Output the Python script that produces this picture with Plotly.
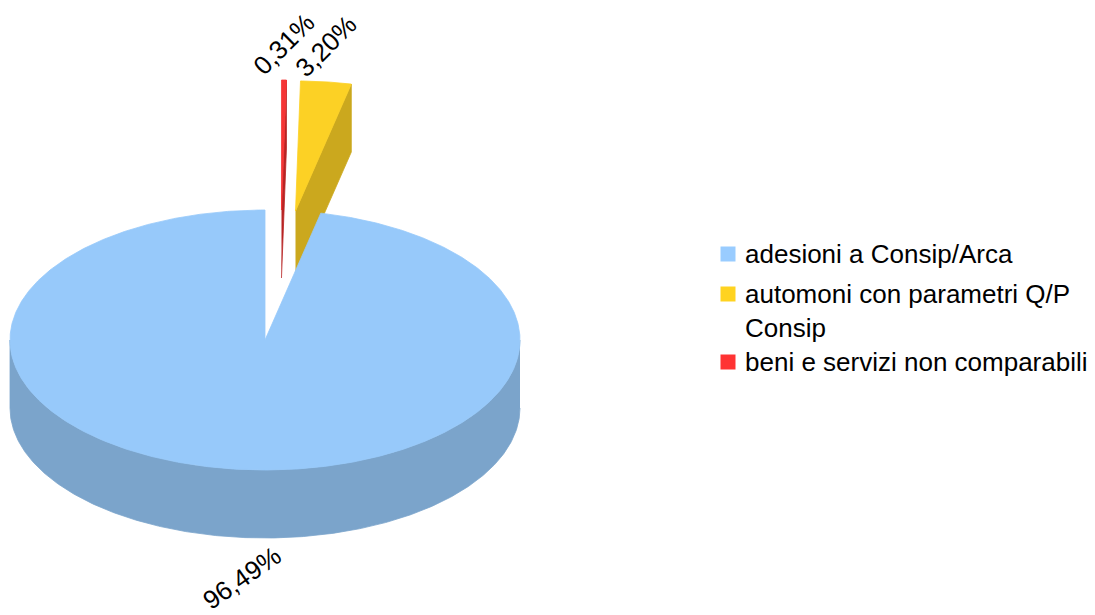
import numpy as np
import plotly.graph_objects as go

# ---------------- data ----------------
categories = ["adesioni a Consip/Arca",
              "automoni con parametri Q/P<br>Consip",
              "beni e servizi non comparabili"]
values = [96.49, 3.20, 0.31]
value_labels = [f"{v:.2f}%".replace(".", ",") for v in values]

# ---------------- style ----------------
base_colors = ["#99CCFF", "#FFD320", "#FF3333"]   # legend swatches
top_colors = ["#97C9FA", "#FCD125", "#F53535"]    # lit top faces
side_colors = ["#7BA4CB", "#CBA81E", "#B82424"]   # shaded side faces
pull = [0.0, 1.0, 1.0]          # explode, fraction of radius
lean = [0.0, 0.0, 14.0]         # perspective lean of exploded slices (px)
label_angle = [-35, -45, -45]
FONT = "Liberation Sans"

W, H = 1095, 615
PAGE_OFF = 8                    # default body margin of the html page
CX, CY, RX, RY, DEPTH = 265, 340, 255, 130, 68
LABEL_GAP_BACK, LABEL_GAP_FRONT, LABEL_SHIFT_FRONT = 36, 41, 5

LEG_X, LEG_Y0, LEG_LINE, LEG_GAP = 728, 254, 28, 12


def pt(t, ox, oy, z=0.0):
    r = np.radians(t)
    return CX + ox + RX * np.sin(r), CY + oy - RY * np.cos(r) + z


def arc(t0, t1):
    n = max(2, int(abs(t1 - t0) * 2) + 2)
    return np.linspace(t0, t1, n)


fig = go.Figure()

total = sum(values)
cum = np.concatenate([[0.0], np.cumsum(np.array(values) / total)])
slices = []
for i in range(len(values)):
    # slices run counter-clockwise from 12 o'clock; t is clockwise angle from top
    t0 = 360.0 * (1 - cum[i + 1])
    t1 = 360.0 * (1 - cum[i])
    phi = np.radians((t0 + t1) / 2)
    ox = pull[i] * RX * np.sin(phi) + lean[i]
    oy = -pull[i] * RY * np.cos(phi)
    slices.append(dict(i=i, t0=t0, t1=t1, ox=ox, oy=oy))


def poly(xs, ys, color):
    fig.add_trace(go.Scatter(
        x=list(xs), y=list(ys), mode="lines", fill="toself",
        fillcolor=color, line=dict(color=color, width=0.8),
        hoverinfo="skip", showlegend=False))


# back-to-front drawing
for s in sorted(slices, key=lambda s: s["oy"]):
    i, t0, t1, ox, oy = s["i"], s["t0"], s["t1"], s["ox"], s["oy"]
    ax, ay = CX + ox, CY + oy
    # radial cut faces
    for t, visible in ((t0, np.sin(np.radians(t0)) < -1e-6),
                       (t1, np.sin(np.radians(t1)) > 1e-6)):
        if visible:
            px, py = pt(t, ox, oy)
            poly([ax, px, px, ax], [ay, py, py + DEPTH, ay + DEPTH], side_colors[i])
    # outer wall (front half only)
    a, b = max(t0, 90.0), min(t1, 270.0)
    if b > a:
        ts = arc(a, b)
        xt, yt = pt(ts, ox, oy)
        xb, yb = pt(ts[::-1], ox, oy, DEPTH)
        poly(np.concatenate([xt, xb]), np.concatenate([yt, yb]), side_colors[i])
    # top face
    ts = arc(t0, t1)
    xt, yt = pt(ts, ox, oy)
    poly(np.concatenate([[ax], xt, [ax]]), np.concatenate([[ay], yt, [ay]]), top_colors[i])

# value labels
for s in slices:
    i = s["i"]
    tm = (s["t0"] + s["t1"]) / 2
    px, py = pt(tm, s["ox"], s["oy"])
    if np.cos(np.radians(tm)) < 0:
        py = py + DEPTH + LABEL_GAP_FRONT
        px = px + LABEL_SHIFT_FRONT
    else:
        py = py - LABEL_GAP_BACK
    fig.add_annotation(x=px, y=py, text=value_labels[i], textangle=label_angle[i],
                       showarrow=False, xanchor="center", yanchor="middle",
                       font=dict(family=FONT, size=26, color="black"))

# legend
leg_y = []
y = LEG_Y0
for c in categories:
    leg_y.append(y)
    y += (c.count("<br>") + 1) * LEG_LINE + LEG_GAP
fig.add_trace(go.Scatter(
    x=[LEG_X] * len(categories), y=leg_y, mode="markers",
    marker=dict(symbol="square", size=15, color=base_colors, line=dict(width=0)),
    hoverinfo="skip", showlegend=False))
for c, yy in zip(categories, leg_y):
    fig.add_annotation(x=LEG_X + 15, y=yy - 17, text=c, showarrow=False,
                       xanchor="left", yanchor="top", align="left",
                       font=dict(family=FONT, size=26, color="black"))

fig.update_layout(
    width=W - PAGE_OFF, height=H - PAGE_OFF, margin=dict(l=0, r=0, t=0, b=0),
    paper_bgcolor="white", plot_bgcolor="white",
    xaxis=dict(range=[PAGE_OFF, W], visible=False, fixedrange=True),
    yaxis=dict(range=[H, PAGE_OFF], visible=False, fixedrange=True),
    showlegend=False,
)

fig.write_html("out.html")
